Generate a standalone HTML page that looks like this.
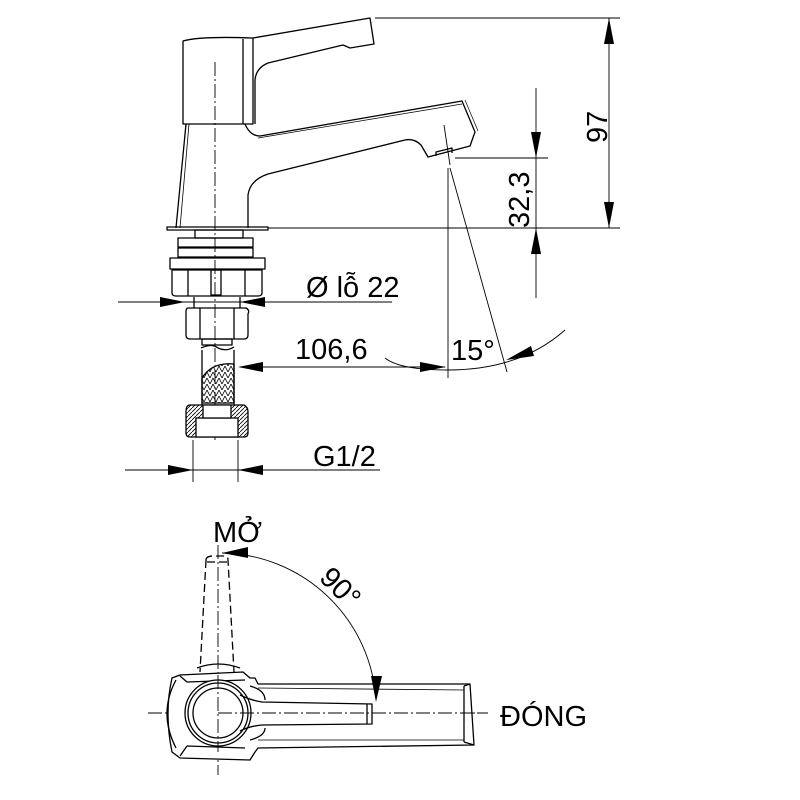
<!DOCTYPE html>
<html><head><meta charset="utf-8"><style>
html,body{margin:0;padding:0;background:#fff;}
svg{display:block;}
text{font-family:"Liberation Sans",sans-serif;fill:#000;}
</style></head><body>
<svg width="800" height="800" viewBox="0 0 800 800" xmlns="http://www.w3.org/2000/svg">
<defs>
<pattern id="br" width="6" height="6" patternUnits="userSpaceOnUse">
<path d="M0 6 L3 0 L6 6" fill="none" stroke="#000" stroke-width="0.8"/>
</pattern>
<pattern id="ht" width="4" height="4" patternUnits="userSpaceOnUse">
<path d="M0 4 L4 0" stroke="#000" stroke-width="0.8"/>
</pattern>
</defs>
<g fill="none" stroke="#000" stroke-width="1.3" stroke-linejoin="round">
<line x1="215" y1="62" x2="215" y2="440" stroke-width="0.9" stroke-dasharray="14,3,2,3"/>
<path d="M183 124 L183 41 Q200 36 253 38 L253 124 Z"/>
<line x1="243" y1="39" x2="243" y2="124"/>
<path d="M253 38 L370 18 L374 44 L350 48 L343 45 L268 63 Q256 68 255 80 L255 124"/>
<path d="M186 124 L176 228"/>
<path d="M189 124 L180 228" stroke-width="0.8"/>
<path d="M245 124 Q250 136 260 136 L462 101 L475 132 L470 146 L428 157 L421 145 Q414 138 405 140 L268 174 Q250 180 248 195 L248 228"/>
<path d="M258 138 L462 104" stroke-width="0.7"/>
<path d="M465 100 L478 131" stroke-width="0.7"/>
<path d="M436 156 L436 152 L452 148 L452 153"/>
<rect x="167" y="227" width="101" height="3"/>
<rect x="195" y="230" width="48" height="8"/>
<rect x="178" y="238" width="75" height="9"/>
<rect x="178" y="248" width="75" height="9"/>
<rect x="170" y="258" width="95" height="11"/>
<path d="M172 270 L262 270 L262 293 Q262 296 258 296 L176 296 Q172 296 172 293 Z"/>
<line x1="188" y1="270" x2="188" y2="296"/><line x1="245" y1="270" x2="245" y2="296"/>
<rect x="211" y="270" width="10" height="25"/>
<line x1="194" y1="297" x2="194" y2="308"/><line x1="240" y1="297" x2="240" y2="308"/>
<path d="M188 308 L246 308 Q250 310 248 314 L248 335 Q248 339 244 339 L190 339 Q186 339 186 335 L186 312 Q186 308 188 308 Z"/>
<line x1="200" y1="308" x2="200" y2="339"/><line x1="234" y1="308" x2="234" y2="339"/>
<rect x="202" y="339" width="30" height="6"/>
<path d="M201 348 Q212 343 218 348 Q226 352 234 347"/>
<line x1="202" y1="350" x2="202" y2="405"/><line x1="234" y1="350" x2="234" y2="405"/>
<path d="M202 378 Q212 362 234 364 L234 403 L202 403 Z" fill="url(#br)"/>
<path d="M190 405 L244 405 Q248 407 248 412 L248 433 Q248 437 244 437 L190 437 Q186 437 186 433 L186 412 Q186 405 190 405 Z" fill="url(#ht)"/>
<rect x="196" y="418" width="42" height="19" fill="#fff"/>
<rect x="203" y="405" width="28" height="13" fill="#fff"/>
<g stroke-width="0.9">
<line x1="118" y1="302" x2="392" y2="302"/>
<line x1="193" y1="440" x2="193" y2="482"/><line x1="238" y1="440" x2="238" y2="482"/>
<line x1="125" y1="470" x2="380" y2="470"/>
<line x1="240" y1="367" x2="445" y2="367"/>
<line x1="375" y1="18" x2="620" y2="18"/>
<line x1="268" y1="228" x2="620" y2="228"/>
<line x1="609" y1="18" x2="609" y2="228"/>
<line x1="455" y1="158" x2="548" y2="158"/>
<line x1="536" y1="88" x2="536" y2="298"/>
<line x1="448" y1="168" x2="448" y2="378"/>
<line x1="450" y1="168" x2="507" y2="372"/>
<line x1="444" y1="125" x2="450" y2="165"/>
<path d="M385 358 Q400 370 448 370 Q520 370 565 330"/>
</g>
</g>
<g fill="#000">
<polygon points="185,302 160,297 160,307"/>
<polygon points="240,302 265,297 265,307"/>
<polygon points="193,470 168,465 168,475"/>
<polygon points="238,470 263,465 263,475"/>
<polygon points="238,367 263,362 263,372"/>
<polygon points="446,367 420,362 420,372"/>
<polygon points="609,18 604,44 614,44"/>
<polygon points="609,228 604,202 614,202"/>
<polygon points="536,158 531,132 541,132"/>
<polygon points="536,228 531,254 541,254"/>
<polygon points="506,360 531,346 534,356"/>
</g>
<text x="306" y="297" font-size="29">Ø lỗ 22</text>
<text x="295" y="359" font-size="29">106,6</text>
<text x="451" y="360" font-size="29">15°</text>
<text x="313" y="466" font-size="29">G1/2</text>
<text font-size="29" transform="translate(607,143) rotate(-90)">97</text>
<text font-size="29" transform="translate(529,228) rotate(-90)">32,3</text>

<g fill="none" stroke="#000" stroke-width="1.3" stroke-linejoin="round">
<g stroke-width="0.9" stroke-dasharray="14,3,2,3">
<line x1="148" y1="713" x2="488" y2="713"/>
<line x1="218" y1="545" x2="218" y2="775"/>
</g>
<path d="M206 560 Q206 556 214 556 L224 556 Q228 556 228 560 L234 672 M206 560 L200 672" stroke-dasharray="8,4"/>
<line x1="207" y1="562" x2="227" y2="562" stroke-dasharray="8,4"/>
<path d="M197 668 Q218 660 240 668" />
<path d="M180 675 L243 672 L250 678 L255 678 L258 684 L470 684 L474 745 L258 748 L255 752 L250 760 L180 758 L172 752 Q164 713 172 678 Z" fill="#fff"/>
<path d="M176 680 Q158 713 176 748"/>
<path d="M187 682 L245 680 M187 746 L245 748 M187 682 L180 676 M187 746 L180 756"/>
<path d="M464 686 L464 742 M470 684 L464 686 M474 745 L464 742"/>
<path d="M258 688 L464 690 M258 740 L464 740" stroke-width="0.8"/>
<circle cx="218" cy="713" r="33" fill="#fff"/>
<circle cx="218" cy="713" r="30"/>
<circle cx="218" cy="713" r="25"/>
<path d="M240 695 Q250 700 262 702 L372 704 L372 724 L262 725 Q250 726 240 731"/>
<line x1="367" y1="704" x2="367" y2="724"/>
<path d="M250 686 Q265 690 265 700 M250 740 Q265 736 265 728"/>
<path d="M222 553 A157 157 0 0 1 376 700" stroke-width="0.9"/>
<line x1="218" y1="713" x2="488" y2="713" stroke-width="0.9" stroke-dasharray="14,3,2,3"/>
<line x1="218" y1="675" x2="218" y2="752" stroke-width="0.9" stroke-dasharray="14,3,2,3"/>
</g>
<g fill="#000">
<polygon points="222,553 248,547 248,558"/>
<polygon points="376,702 371,676 382,676"/>
</g>
<text x="213" y="542" font-size="29">MỞ</text>
<text font-size="29" transform="translate(318,579) rotate(45)">90°</text>
<text x="500" y="726" font-size="29">ĐÓNG</text>
</svg>
</body></html>
